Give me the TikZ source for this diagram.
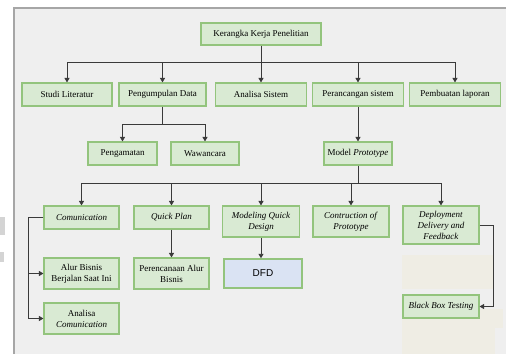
\documentclass[tikz,border=0pt]{standalone}
\usepackage{fontspec}
\setmainfont{Liberation Serif}
\newfontfamily\dfdfont{Liberation Sans}
\usetikzlibrary{arrows.meta, positioning, calc}
\definecolor{boxfill}{HTML}{D9EAD3}
\definecolor{boxline}{HTML}{93C47D}
\definecolor{dfdfill}{HTML}{DAE3F3}
\definecolor{pagebg}{HTML}{EFEFEF}
\definecolor{framegray}{HTML}{A6A6A6}
\definecolor{patchbeige}{HTML}{EFEDE4}
\definecolor{blobgray}{HTML}{D4D4D4}
\definecolor{linkgray}{HTML}{3A3A3A}
\tikzset{
  kbox/.style={draw=boxline, line width=1.1pt, fill=boxfill, align=center,
               inner sep=1pt, minimum height=23pt},
  link/.style={draw=linkgray, line width=0.9pt},
  linkto/.style={link, -{Triangle[length=4.5pt, width=5pt]}}
}
\newcommand{\kbox}[5][]{%
  \node[kbox, #1] (#2) at (#3,#4) {#5};}

\begin{document}
\begin{tikzpicture}[x=1pt, y=-1pt,
    font=\fontsize{9}{11}\selectfont]
  \useasboundingbox (0,0) rectangle (506,354);
  \fill[white] (0,0) rectangle (506,354);
  % page frame and the patches on it
  \fill[pagebg] (14,8) rectangle (506,354);
  \draw[framegray, line width=1.5pt] (14,354) -- (14,8) -- (506,8);
  \fill[blobgray] (0,217) rectangle (5,235);
  \fill[blobgray] (0,252) rectangle (4,262);
  \fill[patchbeige] (402,255) rectangle (493,289);
  \fill[patchbeige] (402,318) rectangle (495,354);
  \fill[patchbeige] (480,309) rectangle (503,328);

  % top
  \kbox[minimum width=120pt, minimum height=22pt]{kk}{261}{34}{Kerangka Kerja Penelitian}
  % second row
  \kbox[minimum width=90pt]{sl}{67}{94.5}{Studi Literatur}
  \kbox[minimum width=87pt]{pd}{162.5}{94.5}{Pengumpulan Data}
  \kbox[minimum width=91pt]{as}{261}{94.5}{Analisa Sistem}
  \kbox[minimum width=91pt]{ps}{358}{94.5}{Perancangan sistem}
  \kbox[minimum width=91pt]{pl}{455}{94.5}{Pembuatan laporan}
  % third row
  \kbox[minimum width=69pt]{pg}{122.5}{153.5}{Pengamatan}
  \kbox[minimum width=68pt]{ww}{205}{153.5}{Wawancara}
  \kbox[minimum width=68pt]{mp}{358}{153.5}{Model \textit{Prototype}}
  % prototype steps
  \kbox[minimum width=75pt]{cm}{81.5}{217.5}{\textit{Comunication}}
  \kbox[minimum width=75pt]{qp}{171.5}{217.5}{\textit{Quick Plan}}
  \kbox[minimum width=77pt, minimum height=31pt]{md}{261}{221.5}{\textit{Modeling Quick}\\\textit{Design}}
  \kbox[minimum width=76pt, minimum height=31pt]{cp}{351}{221.5}{\textit{Contruction of}\\\textit{Prototype}}
  \kbox[minimum width=76pt, minimum height=38pt]{dd}{441}{225}{\textit{Deployment}\\\textit{Delivery and}\\\textit{Feedback}}
  % results
  \kbox[minimum width=75pt, minimum height=31pt]{ab}{81.5}{273.5}{Alur Bisnis\\Berjalan Saat Ini}
  \kbox[minimum width=75pt, minimum height=31pt]{pa}{171.5}{273.5}{Perencanaan Alur\\Bisnis}
  \kbox[minimum width=78pt, minimum height=29pt, fill=dfdfill, line width=1.4pt,
        font=\dfdfont\fontsize{10}{12}\selectfont]{dfd}{263}{273.5}{DFD}
  \kbox[minimum width=75pt, minimum height=31pt]{ac}{81.5}{318.5}{Analisa\\\textit{Comunication}}
  \kbox[minimum width=76pt]{bb}{441}{306.5}{\textit{Black Box Testing}}

  % connectors
  \coordinate (bus1) at (261,62);
  \coordinate (bus2) at (162.5,124);
  \coordinate (bus3) at (358,183);
  \draw[link] (kk) -- (bus1);
  \foreach \n in {sl,pd,as,ps,pl}
    \draw[linkto] (bus1) -| (\n);
  \draw[link] (pd) -- (bus2);
  \foreach \n in {pg,ww}
    \draw[linkto] (bus2) -| (\n);
  \draw[linkto] (ps) -- (mp);
  \draw[link] (mp) -- (bus3);
  \foreach \n in {cm,qp,md,cp,dd}
    \draw[linkto] (bus3) -| (\n);
  \draw[linkto] (qp) -- (pa);
  \draw[linkto] (md) -- (md |- dfd.north);
  \draw[linkto] (cm.west) -- ++(-15,0) |- (ab);
  \draw[linkto] (cm.west) -- ++(-15,0) |- (ac);
  \draw[linkto] (dd.east) -- ++(14,0) |- (bb);
\end{tikzpicture}
\end{document}
